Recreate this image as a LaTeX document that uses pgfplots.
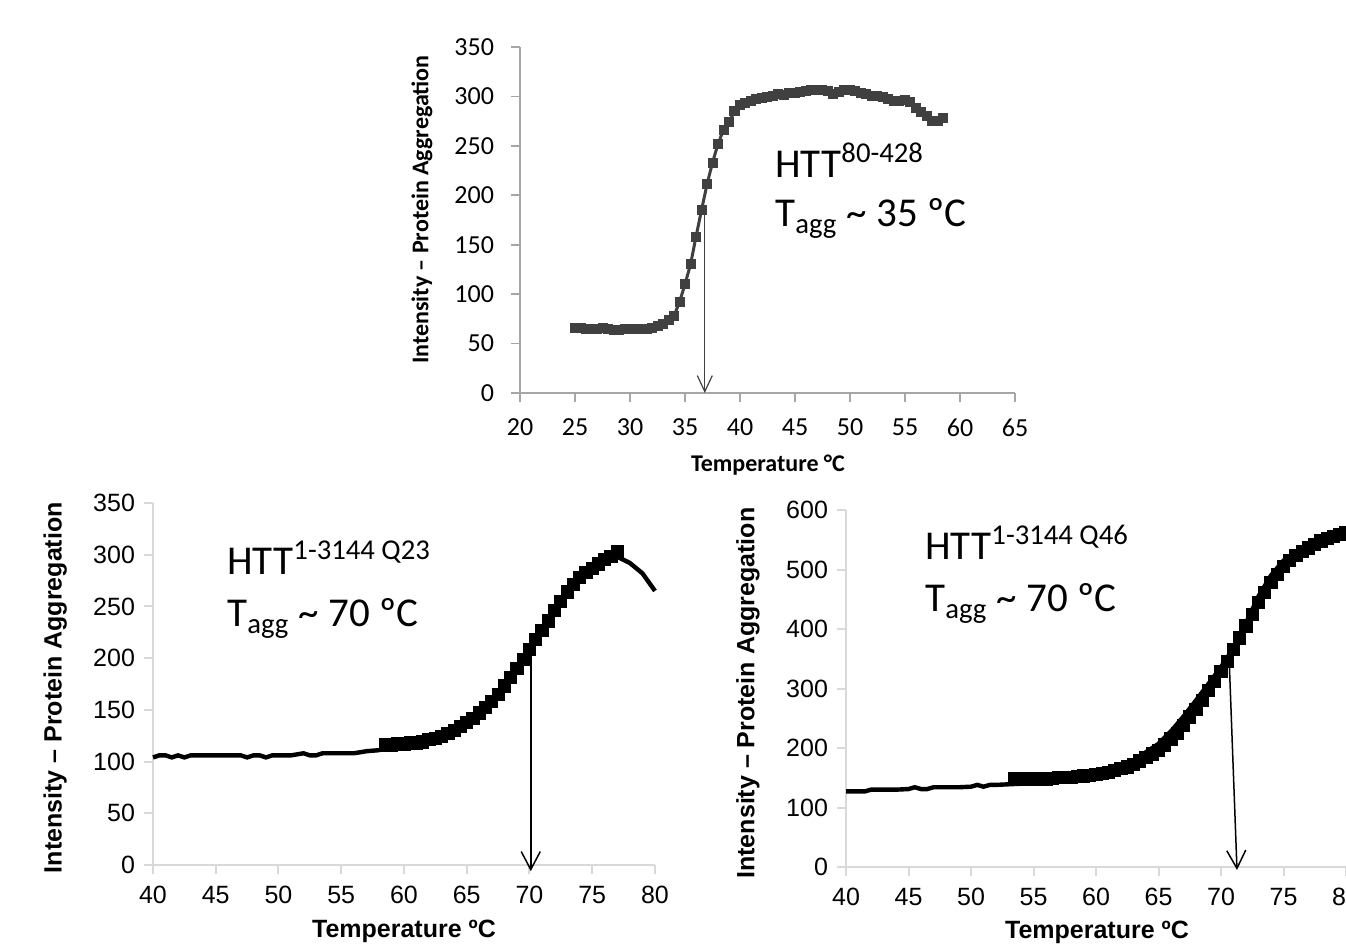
\documentclass[border=0pt]{standalone}
\usepackage{fontspec}
\setmainfont{Carlito}
\newfontfamily\arialf{Liberation Sans}
\usepackage{pgfplots}
\pgfplotsset{compat=1.18}
\usetikzlibrary{arrows.meta}

\definecolor{axgray}{HTML}{A6A6A6}
\definecolor{axlight}{HTML}{D9D9D9}
\definecolor{curvegray}{HTML}{404040}

\pgfplotsset{
  xlbase/.style={
    scale only axis,
    axis lines=left,
    axis line style={-},
    x axis line style={-},
    y axis line style={-},
    tick align=outside,
    major tick length=4.5pt,
    clip=false,
    /pgf/number format/assume math mode=true,
  },
}

\begin{document}
\begin{tikzpicture}[x=0.5pt,y=0.5pt]

% ---------------- top: HTT 80-428 ----------------
\begin{axis}[xlbase,
  at={(260pt,278pt)}, anchor=south west,
  width=247.5pt, height=173pt,
  xmin=20, xmax=65, ymin=0, ymax=350,
  xtick={20,25,...,65}, ytick={0,50,...,350},
  axis line style={axgray, line width=0.8pt},
  tick style={axgray, line width=0.8pt},
  tick label style={font=\fontsize{13}{15}\selectfont},
  xticklabel style={yshift=-5pt},
  yticklabel style={xshift=-5pt},
  xlabel={Temperature °C},
  ylabel={Intensity – Protein Aggregation},
  every axis x label/.style={at={(axis description cs:0.501,-0.208)}, anchor=center,
    font=\fontsize{12}{14}\selectfont\bfseries},
  every axis y label/.style={at={(axis description cs:-0.198,0.53)}, rotate=90, anchor=center,
    font=\fontsize{12}{14}\selectfont\bfseries},
]
\addplot[curvegray, line width=1.5pt, mark=square*, mark size=1.75pt] coordinates {
(25,66) (25.5,66) (26,65) (26.5,65) (27,65) (27.5,66) (28,65) (28.5,64)
(29,64) (29.5,65) (30,65) (30.5,65) (31,65) (31.5,65) (32,66) (32.5,68)
(33,70) (33.5,74) (34,78) (34.5,92) (35,110) (35.5,130) (36,158) (36.5,185)
(37,211) (37.5,233) (38,252) (38.5,266) (39,274) (39.5,285) (40,291) (40.5,293)
(41,295) (41.5,297) (42,298) (42.5,299) (43,300) (43.5,302) (44,301) (44.5,303)
(45,303) (45.5,304) (46,305) (46.5,306) (47,307) (47.5,306) (48,305) (48.5,302)
(49,304) (49.5,306) (50,306) (50.5,305) (51,303) (51.5,302) (52,300) (52.5,300)
(53,299) (53.5,297) (54,295) (54.5,295) (55,296) (55.5,294) (56,288) (56.5,284)
(57,280) (57.5,275) (58,275) (58.5,278)
};
\draw[curvegray, line width=0.6pt, -{Straight Barb[length=8pt,width=7.5pt]}]
  (axis cs:36.8,190) -- (axis cs:36.8,0);
\end{axis}

% ---------------- bottom left: Q23 ----------------
\begin{axis}[xlbase,
  at={(76.5pt,42pt)}, anchor=south west,
  width=251pt, height=181pt,
  xmin=40, xmax=80, ymin=0, ymax=350,
  xtick={40,45,...,80}, ytick={0,50,...,350},
  axis line style={axlight, line width=1pt},
  tick style={axlight, line width=1pt},
  tick label style={font=\arialf\fontsize{12.5}{15}\selectfont},
  xticklabel style={yshift=-2.5pt},
  yticklabel style={xshift=-1pt},
  xlabel={Temperature ºC},
  ylabel={Intensity – Protein Aggregation},
  every axis x label/.style={at={(axis description cs:0.5,-0.182)}, anchor=center,
    font=\arialf\bfseries\fontsize{12.5}{15}\selectfont},
  every axis y label/.style={at={(axis description cs:-0.195,0.49)}, rotate=90, anchor=center,
    font=\arialf\bfseries\fontsize{12.5}{15}\selectfont},
]
\addplot[black, line width=2.2pt] coordinates {
(40,104) (40.5,106) (41,106) (41.5,104) (42,106) (42.5,104) (43,106) (44,106)
(45,106) (46,106) (47,106) (47.5,104) (48,106) (48.5,106) (49,104) (49.5,106)
(50,106) (51,106) (52,108) (52.5,106) (53,106) (53.5,108) (54,108) (55,108)
(56,108) (57,110) (58,111) (59,115) (60,117) (61,119) (62,122) (63,126)
(64,132) (65,139) (66,148) (67,160) (68,175) (69,192) (70,209) (71,228)
(72,246) (73,264) (74,278) (75,288) (76,296) (77,298) (78,292) (79,282) (80,265)
};
\addplot[black, line width=2.2pt, mark=square*, mark size=2.2pt] coordinates {
(58.5,116) (59,116) (59.5,117) (60,117) (60.5,118) (61,118) (61.5,119) (62,121)
(62.5,122) (63,124) (63.5,127) (64,130) (64.5,134) (65,138) (65.5,142) (66,147)
(66.5,152) (67,158) (67.5,165) (68,173) (68.5,181) (69,190) (69.5,199) (70,208)
(70.5,218) (71,227) (71.5,236) (72,246) (72.5,255) (73,264) (73.5,271) (74,278)
(74.5,283) (75,287) (75.5,291) (76,295) (76.5,298) (77,303)
};
\draw[black, line width=0.75pt, -{Straight Barb[length=9pt,width=9.5pt]}]
  (axis cs:70.1,210) -- (axis cs:70.1,-6);
\end{axis}

% ---------------- bottom right: Q46 ----------------
\begin{axis}[xlbase,
  at={(423pt,41pt)}, anchor=south west,
  width=250pt, height=178.5pt,
  xmin=40, xmax=80, ymin=0, ymax=600,
  xtick={40,45,...,80}, ytick={0,100,...,600},
  axis line style={axlight, line width=1pt},
  tick style={axlight, line width=1pt},
  tick label style={font=\arialf\fontsize{12.5}{15}\selectfont},
  xticklabel style={yshift=-2.5pt},
  yticklabel style={xshift=-1pt},
  xlabel={Temperature ºC},
  ylabel={Intensity – Protein Aggregation},
  every axis x label/.style={at={(axis description cs:0.502,-0.182)}, anchor=center,
    font=\arialf\bfseries\fontsize{12.5}{15}\selectfont},
  every axis y label/.style={at={(axis description cs:-0.196,0.487)}, rotate=90, anchor=center,
    font=\arialf\bfseries\fontsize{12.5}{15}\selectfont},
]
\addplot[black, line width=2.2pt] coordinates {
(40,127) (41,127) (41.5,127) (42,130) (43,130) (44,130) (45,131) (45.5,134)
(46,131) (46.5,131) (47,134) (48,134) (49,134) (50,135) (50.5,138) (51,135)
(51.5,138) (52,138) (53,139) (54,140) (55,145) (56,148) (57,150) (58,152)
(59,153) (60,156) (61,162) (62,168) (63,178) (64,193) (65,207) (66,228)
(67,253) (68,280) (69,308) (70,336) (71,368) (72,410) (73,455) (74,490)
(75,515) (76,530) (77,540) (78,548) (79,555) (80,560)
};
\addplot[black, line width=2.2pt, mark=square*, mark size=2.2pt] coordinates {
(53.5,148) (54,148) (54.5,148) (55,148) (55.5,148) (56,148) (56.5,149) (57,150)
(57.5,150) (58,151) (58.5,152) (59,153) (59.5,154) (60,155) (60.5,157) (61,159)
(61.5,162) (62,165) (62.5,168) (63,172) (63.5,178) (64,184) (64.5,190) (65,196)
(65.5,205) (66,215) (66.5,225) (67,238) (67.5,252) (68,265) (68.5,280) (69,296)
(69.5,312) (70,328) (70.5,345) (71,365) (71.5,385) (72,405) (72.5,425) (73,445)
(73.5,462) (74,478) (74.5,492) (75,505) (75.5,515) (76,523) (76.5,530) (77,536)
(77.5,542) (78,548) (78.5,552) (79,556) (79.5,559) (80,562)
};
\draw[black, line width=0.75pt, -{Straight Barb[length=9pt,width=9.5pt]}]
  (axis cs:70.64,356) -- (axis cs:71.28,-5);
\end{axis}

% ---------------- annotations ----------------
\begin{scope}[every node/.style={anchor=base west, inner sep=0pt,
    font=\fontsize{20.5}{24}\selectfont}]
\node at (775,771) {HTT\textsuperscript{80-428}};
\node at (775,722) {T\textsubscript{agg} \textasciitilde{} 35 ºC};
\node at (227,374) {HTT\textsuperscript{1-3144 Q23}};
\node at (227,322) {T\textsubscript{agg} \textasciitilde{} 70 ºC};
\node at (925,389) {HTT\textsuperscript{1-3144 Q46}};
\node at (925,337) {T\textsubscript{agg} \textasciitilde{} 70 ºC};
\end{scope}

\pgfresetboundingbox
\useasboundingbox (0,0) rectangle (1346,949);
\end{tikzpicture}
\end{document}
